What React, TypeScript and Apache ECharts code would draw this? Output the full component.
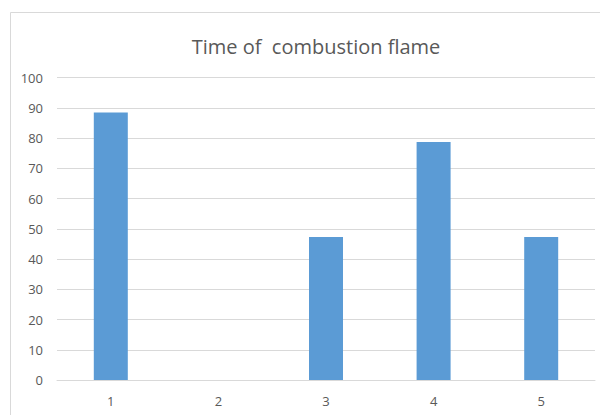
import React, { useEffect, useRef } from "react";
import * as echarts from "echarts";

const categories = ["1", "2", "3", "4", "5"];
const values = [88.5, 0, 47.3, 78.7, 47.3];
const titleText = "Time of  combustion flame";

export default function App() {
  const ref = useRef<HTMLDivElement>(null);
  useEffect(() => {
    if (!ref.current) return;
    const chart = echarts.init(ref.current, null, { renderer: "svg" });
    chart.setOption({
      animation: false,
      backgroundColor: "#ffffff",
      title: {
        text: titleText,
        left: 311,
        top: 31,
        textAlign: "center",
        textStyle: {
          fontFamily: "Open Sans",
          fontSize: 20,
          fontWeight: "normal",
          color: "#595959",
        },
      },
      graphic: [
        {
          type: "rect",
          shape: { x: 10.5, y: 12.5, width: 700, height: 500 },
          style: { fill: "none", stroke: "#d9d9d9", lineWidth: 1 },
          silent: true,
        },
      ],
      grid: { left: 57, right: 5, top: 77.7, bottom: 35 },
      xAxis: {
        type: "category",
        data: categories,
        axisLine: { show: true, lineStyle: { color: "#d9d9d9" } },
        axisTick: { show: false },
        axisLabel: {
          color: "#595959",
          fontSize: 13,
          fontFamily: "Open Sans",
          margin: 14,
        },
      },
      yAxis: {
        type: "value",
        min: 0,
        max: 100,
        interval: 10,
        axisLine: { show: false },
        axisTick: { show: false },
        splitLine: { lineStyle: { color: "#d9d9d9" } },
        axisLabel: {
          color: "#595959",
          fontSize: 13,
          fontFamily: "Open Sans",
          margin: 14,
        },
      },
      series: [
        {
          type: "bar",
          data: values,
          barWidth: 34,
          itemStyle: { color: "#5b9bd5" },
        },
      ],
    });
    return () => chart.dispose();
  }, []);
  return (
    <div
      ref={ref}
      style={{ position: "fixed", left: 0, top: 0, width: 600, height: 415 }}
    />
  );
}
